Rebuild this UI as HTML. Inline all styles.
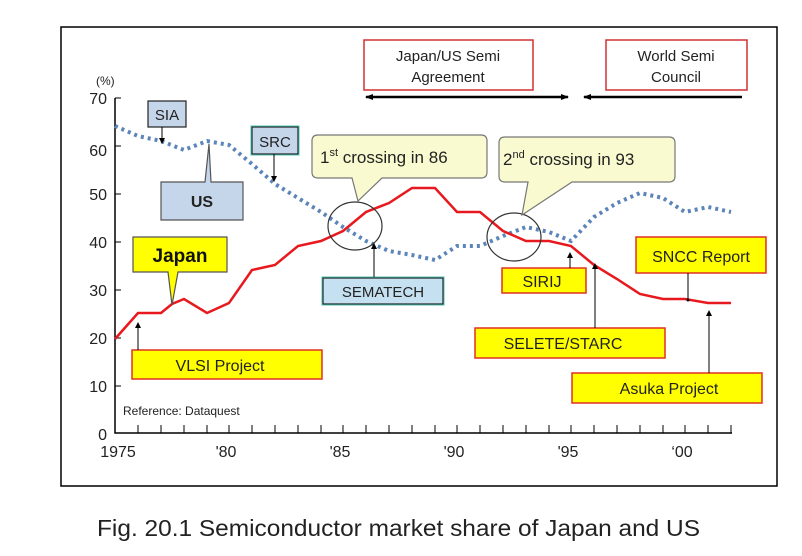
<!DOCTYPE html>
<html><head><meta charset="utf-8"><style>
body{margin:0;background:#fff}
svg{display:block}
text{font-family:"Liberation Sans",sans-serif}
</style></head><body>
<svg width="802" height="556" viewBox="0 0 802 556" xmlns="http://www.w3.org/2000/svg">
<defs>
<marker id="ah" markerWidth="8" markerHeight="8" refX="7" refY="4" orient="auto" markerUnits="userSpaceOnUse"><path d="M0,1 L8,4 L0,7 Z" fill="#000"/></marker>
<marker id="as" markerWidth="6" markerHeight="6" refX="5" refY="3" orient="auto" markerUnits="userSpaceOnUse"><path d="M0,0 L6,3 L0,6 Z" fill="#000"/></marker>
</defs>
<rect x="61" y="27" width="716" height="459" fill="#fff" stroke="#000" stroke-width="1.5"/>
<path d="M115,98 V433 H732" fill="none" stroke="#000" stroke-width="1.5"/>
<g stroke="#000" stroke-width="1">
<path d="M115,98h6M115,146h6M115,194h6M115,242h6M115,290h6M115,338h6M115,386h6"/>
<path d="M138,433v-8M161,433v-8M184,433v-8M207,433v-8M229,433v-8M252,433v-8M275,433v-8M298,433v-8M321,433v-8M343,433v-8M366,433v-8M389,433v-8M412,433v-8M435,433v-8M457,433v-8M480,433v-8M503,433v-8M526,433v-8M549,433v-8M571,433v-8M594,433v-8M617,433v-8M640,433v-8M663,433v-8M685,433v-8M708,433v-8M731,433v-8"/>
</g>
<g font-size="16" fill="#222" text-anchor="end">
<text x="107" y="104">70</text><text x="107" y="156">60</text><text x="107" y="200">50</text><text x="107" y="248">40</text><text x="107" y="296">30</text><text x="107" y="344">20</text><text x="107" y="392">10</text><text x="107" y="440">0</text>
</g>
<text x="96" y="85" font-size="12" fill="#222">(%)</text>
<g font-size="16" fill="#222" text-anchor="middle">
<text x="118" y="457">1975</text><text x="226" y="457">'80</text><text x="340" y="457">'85</text><text x="454" y="457">'90</text><text x="568" y="457">'95</text><text x="682" y="457">‘00</text>
</g>
<text x="123" y="415" font-size="12" fill="#222">Reference: Dataquest</text>
<polyline fill="none" stroke="#5b85b8" stroke-width="4" stroke-dasharray="3,4" points="115,126 138,136 161,141 184,150 207,141 229,145 252,164 275,184 298,198 321,212 343,227 366,241 389,251 412,255 435,260 457,246 480,246 503,236 526,227 549,232 571,241 594,217 617,203 640,193 663,198 685,212 708,207 731,212"/>
<polyline fill="none" stroke="#e8191e" stroke-width="2.5" points="115,339 138,313 161,313 172,304 184,299 207,313 229,303 252,270 275,265 298,246 321,241 343,231 366,212 389,203 412,188 435,188 457,212 480,212 503,231 526,241 549,241 571,246 594,265 617,279 640,294 663,299 685,299 708,303 731,303"/>
<ellipse cx="355" cy="226" rx="27" ry="24" fill="none" stroke="#333" stroke-width="1.2"/>
<ellipse cx="514" cy="237" rx="27" ry="24" fill="none" stroke="#333" stroke-width="1.2"/>
<rect x="364" y="40" width="169" height="50" fill="#fff" stroke="#d03030" stroke-width="1.5"/>
<text x="448" y="61" font-size="15" text-anchor="middle" fill="#222">Japan/US  Semi</text>
<text x="448" y="82" font-size="15" text-anchor="middle" fill="#222">Agreement</text>
<rect x="606" y="40" width="141" height="50" fill="#fff" stroke="#d03030" stroke-width="1.5"/>
<text x="676" y="61" font-size="15" text-anchor="middle" fill="#222">World Semi</text>
<text x="676" y="82" font-size="15" text-anchor="middle" fill="#222">Council</text>
<line x1="374" y1="97" x2="568" y2="97" stroke="#000" stroke-width="2.5" marker-end="url(#ah)"/>
<line x1="374" y1="97" x2="366" y2="97" stroke="#000" stroke-width="2.5" marker-end="url(#ah)"/>
<line x1="742" y1="97" x2="584" y2="97" stroke="#000" stroke-width="2.5" marker-end="url(#ah)"/>
<path d="M318,135 H481 Q487,135 487,141 V172 Q487,178 481,178 H382 L358,201 L352,178 H318 Q312,178 312,172 V141 Q312,135 318,135 Z" fill="#fafad0" stroke="#777" stroke-width="1.2"/>
<text x="320" y="163" font-size="17" fill="#222">1<tspan font-size="11" dy="-7">st</tspan><tspan dy="7">  crossing in 86</tspan></text>
<path d="M505,137 H669 Q675,137 675,143 V176 Q675,182 669,182 H572 L522,215 L528,182 H505 Q499,182 499,176 V143 Q499,137 505,137 Z" fill="#fafad0" stroke="#777" stroke-width="1.2"/>
<text x="503" y="165" font-size="17" fill="#222">2<tspan font-size="11" dy="-7">nd</tspan><tspan dy="7"> crossing in 93</tspan></text>
<rect x="148" y="101" width="38" height="26" fill="#c5d5ea" stroke="#222" stroke-width="1.2"/>
<text x="167" y="120" font-size="15" text-anchor="middle" fill="#222">SIA</text>
<line x1="162" y1="127" x2="162" y2="143" stroke="#000" marker-end="url(#as)"/>
<rect x="252" y="127" width="46" height="27" fill="#c5d5ea" stroke="#222" stroke-width="1.2"/>
<rect x="251" y="126" width="48" height="29" fill="none" stroke="#4cc4b4" stroke-width="1"/>
<text x="275" y="147" font-size="15" text-anchor="middle" fill="#222">SRC</text>
<line x1="274" y1="154" x2="274" y2="181" stroke="#000" marker-end="url(#as)"/>
<path d="M161,182 H205 L209,144 L211,182 H243 V220 H161 Z" fill="#c5d5ea" stroke="#555" stroke-width="1.2"/>
<text x="202" y="207" font-size="16" font-weight="bold" text-anchor="middle" fill="#222">US</text>
<path d="M133,237 H227 V272 H178 L172,305 L168,272 H133 Z" fill="#ffff00" stroke="#555" stroke-width="1.2"/>
<text x="180" y="262" font-size="19" font-weight="bold" text-anchor="middle" fill="#111">Japan</text>
<rect x="323" y="278" width="120" height="26" fill="#c5e0f0" stroke="#222" stroke-width="1.2"/>
<rect x="322" y="277" width="122" height="28" fill="none" stroke="#4cc4b4" stroke-width="1"/>
<text x="383" y="297" font-size="15" text-anchor="middle" fill="#222">SEMATECH</text>
<line x1="374" y1="277" x2="374" y2="244" stroke="#000" marker-end="url(#as)"/>
<g stroke="#e03020" stroke-width="1.5" fill="#ffff00">
<rect x="132" y="350" width="190" height="29"/>
<rect x="502" y="268" width="84" height="25"/>
<rect x="475" y="328" width="190" height="30"/>
<rect x="572" y="373" width="190" height="30"/>
<rect x="636" y="237" width="130" height="36"/>
</g>
<g font-size="16" fill="#222" text-anchor="middle">
<text x="220" y="371">VLSI Project</text>
<text x="542" y="287">SIRIJ</text>
<text x="563" y="349">SELETE/STARC</text>
<text x="669" y="394">Asuka Project</text>
<text x="701" y="262">SNCC  Report</text>
</g>
<g stroke="#000" stroke-width="1">
<line x1="138" y1="350" x2="138" y2="323" marker-end="url(#as)"/>
<line x1="570" y1="268" x2="570" y2="253" marker-end="url(#as)"/>
<line x1="595" y1="328" x2="595" y2="264" marker-end="url(#as)"/>
<line x1="709" y1="373" x2="709" y2="311" marker-end="url(#as)"/>
<line x1="688" y1="273" x2="688" y2="300"/>
</g>
<circle cx="688" cy="300" r="1.5" fill="#000"/>
<text x="97" y="536" font-size="23" fill="#222" textLength="603" lengthAdjust="spacingAndGlyphs">Fig. 20.1 Semiconductor market share of Japan and US</text>
</svg>
</body></html>
